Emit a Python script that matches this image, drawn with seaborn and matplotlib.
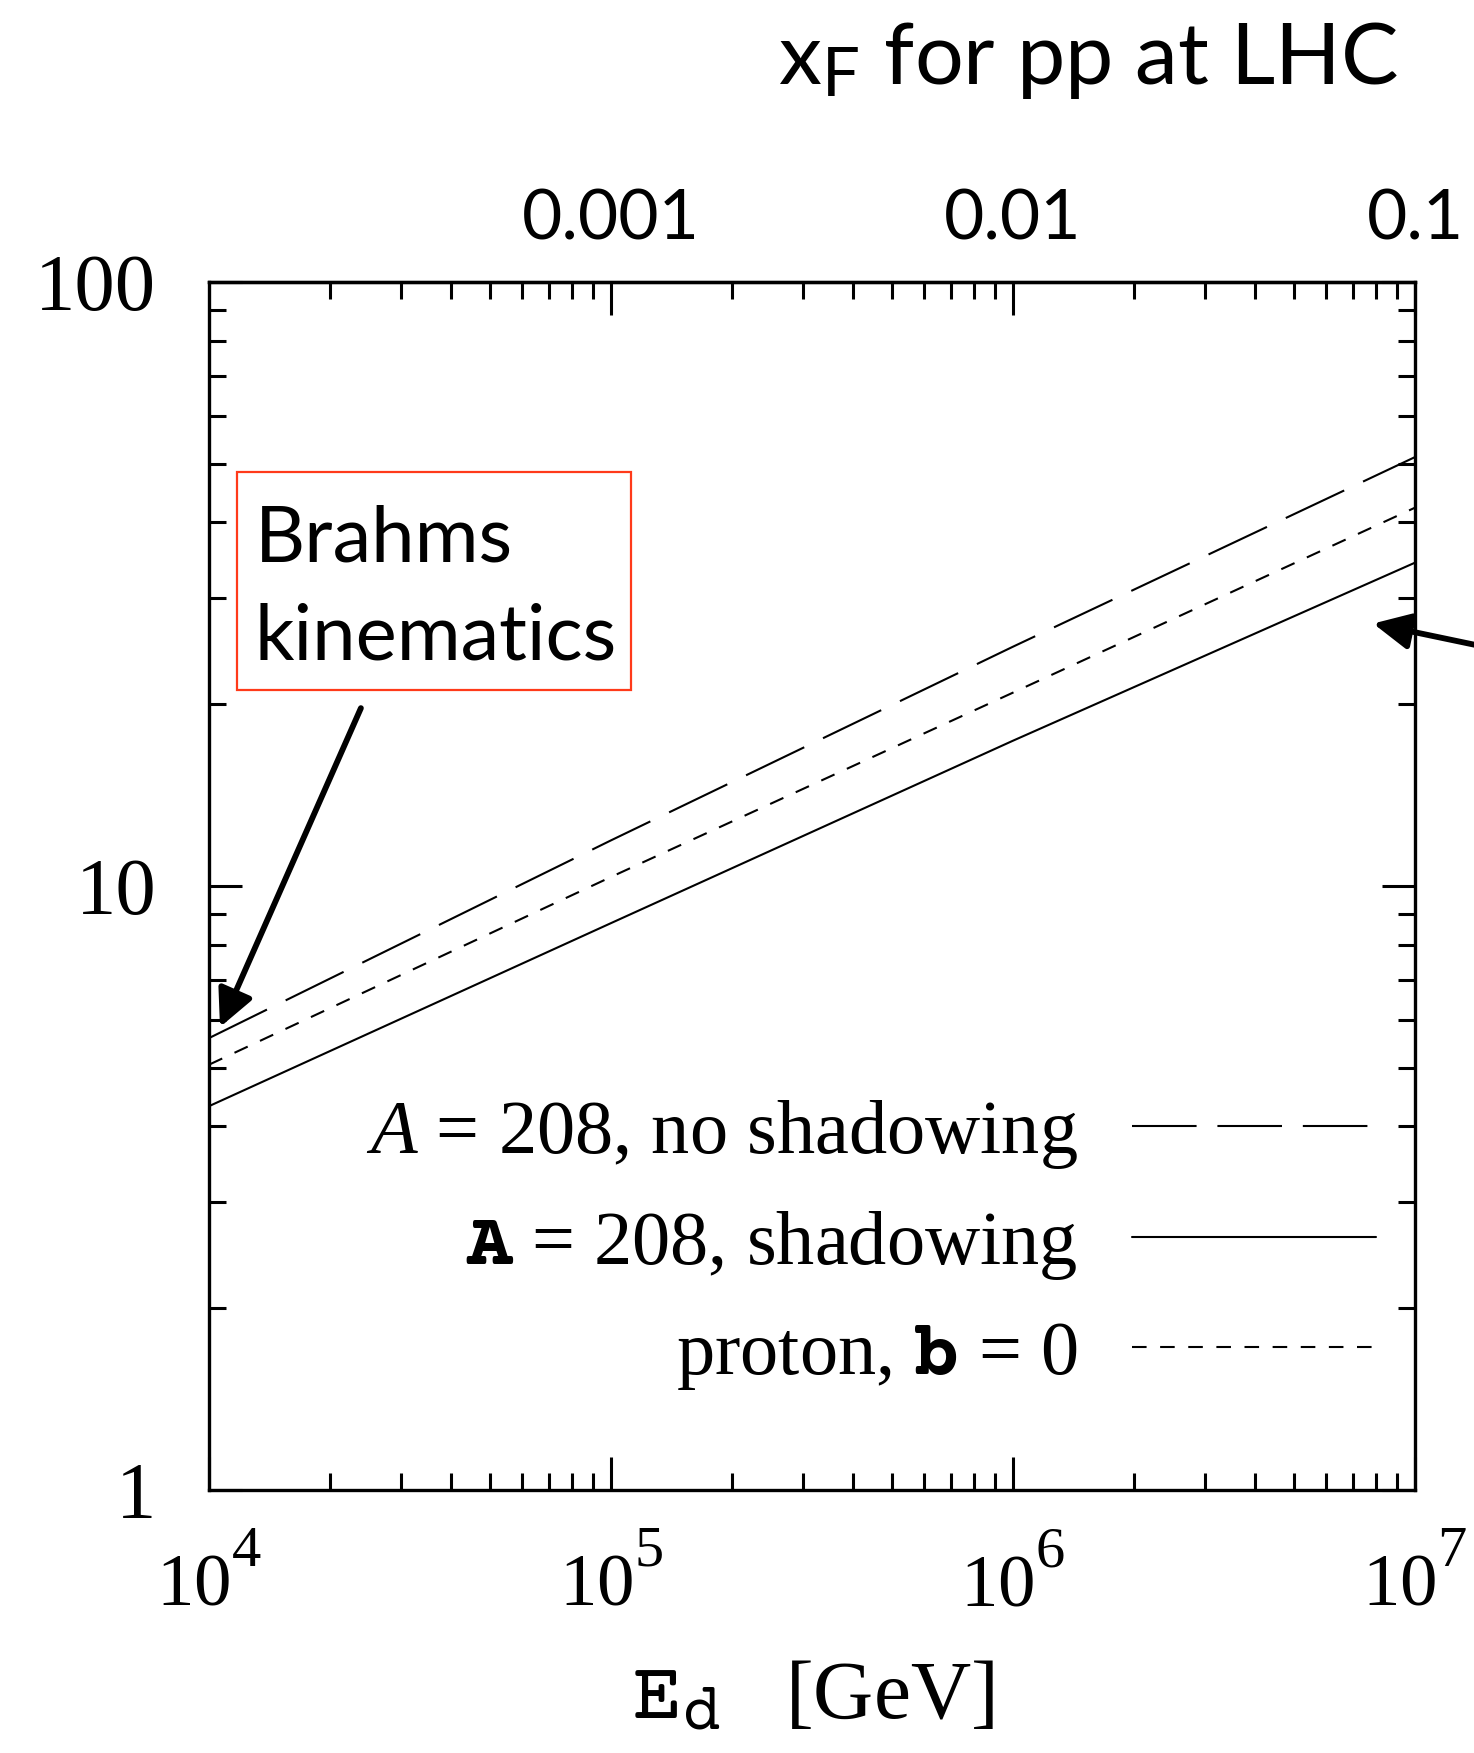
import numpy as np
import pandas as pd
import matplotlib
matplotlib.use("Agg")
import matplotlib.pyplot as plt
import seaborn as sns
from matplotlib import font_manager as fm
from matplotlib.patches import Rectangle
from matplotlib.ticker import LogLocator, NullFormatter

# ---------------- data ----------------
energy_gev = [1e4, 1e5, 1e6, 1e7]
no_shadowing = [5.6, 11.9, 24.9, 51.3]
shadowing = [4.32, 8.68, 17.4, 34.3]
proton_b0 = [5.06, 10.35, 20.9, 42.3]
series_labels = [r"$\mathit{A}$ = 208, no shadowing",
                 r"$\mathbf{A}$ = 208, shadowing",
                 r"proton, $\mathbf{b}$ = 0"]
x_ticks = [1e4, 1e5, 1e6, 1e7]
x_tick_labels = [r"$10^{4}$", r"$10^{5}$", r"$10^{6}$", r"$10^{7}$"]
y_ticks = [1, 10, 100]
y_tick_labels = ["1", "10", "100"]
xf_ticks = [0.001, 0.01, 0.1]
xf_tick_labels = ["0.001", "0.01", "0.1"]
brahms_lines = ["Brahms", "kinematics"]
brahms_tail = (23870, 19.7)
brahms_head = (10650, 5.84)
right_tail = (1.82e7, 24.2)
right_head = (7.87e6, 27.2)

# ---------------- fonts ----------------
names = {f.name for f in fm.fontManager.ttflist}
mono = next((n for n in ["Courier Prime", "Cutive Mono", "Nimbus Mono PS", "FreeMono",
                         "Courier New", "Liberation Mono"] if n in names), "monospace")

# larger / higher superscripts, as in the reference
try:
    import matplotlib._mathtext as _mt

    class _SerifConsts(_mt.FontConstantsBase):
        sup1 = 1.15

    _mt._font_constant_mapping["Liberation Serif"] = _SerifConsts
    _mt.SHRINK_FACTOR = 0.78
except Exception:
    pass

# ---------------- style ----------------
sns.set_theme(style="ticks")
plt.rcParams["font.family"] = ["Liberation Serif", "DejaVu Serif"]
plt.rcParams["text.color"] = "black"
plt.rcParams["axes.labelcolor"] = "black"
plt.rcParams["xtick.color"] = "black"
plt.rcParams["ytick.color"] = "black"
plt.rcParams["mathtext.fontset"] = "custom"
plt.rcParams["mathtext.rm"] = "Liberation Serif"
plt.rcParams["mathtext.it"] = "Liberation Serif:italic"
plt.rcParams["mathtext.tt"] = mono
plt.rcParams["mathtext.bf"] = mono + ":bold"   # typewriter, heavier (legend symbols)
plt.rcParams["mathtext.sf"] = "Lato"

df = pd.DataFrame({
    "E": energy_gev * 3,
    "R": no_shadowing + shadowing + proton_b0,
    "series": [series_labels[0]] * 4 + [series_labels[1]] * 4 + [series_labels[2]] * 4,
})

fig = plt.figure(figsize=(14.74, 17.53), dpi=100)
ax = fig.add_axes([0.14179, 0.15003, 0.81818, 0.68911])

dash_map = {series_labels[0]: (31, 10), series_labels[1]: "", series_labels[2]: (7, 6.5)}
sns.lineplot(data=df, x="E", y="R", style="series", dashes=dash_map,
             color="black", lw=1.5, legend=False, ax=ax, estimator=None, sort=True)

ax.set_xscale("log")
ax.set_yscale("log")
ax.set_xlim(1e4, 1e7)
ax.set_ylim(1, 100)
ax.set_xticks(x_ticks, labels=x_tick_labels)
ax.set_yticks(y_ticks, labels=y_tick_labels)
ax.xaxis.set_minor_locator(LogLocator(base=10, subs=np.arange(2, 10)))
ax.yaxis.set_minor_locator(LogLocator(base=10, subs=np.arange(2, 10)))
ax.xaxis.set_minor_formatter(NullFormatter())
ax.yaxis.set_minor_formatter(NullFormatter())
ax.tick_params(which="both", direction="in", top=False, right=True, width=2.2, color="black")
ax.tick_params(which="major", length=24)
ax.tick_params(which="minor", length=12)
ax.tick_params(axis="y", labelsize=58, pad=38)
ax.tick_params(axis="x", labelsize=54, pad=36)
for s in ax.spines.values():
    s.set_linewidth(2.4)
    s.set_color("black")
    s.set_visible(True)
ax.set_xlabel(r"$\mathtt{E_d}$   [GeV]", fontsize=60, labelpad=28)
ax.set_ylabel("")

sec = ax.secondary_xaxis("top", functions=(lambda e: e / 1e8, lambda x: x * 1e8))
sec.set_xticks(xf_ticks, labels=xf_tick_labels)
sec.xaxis.set_minor_locator(LogLocator(base=10, subs=np.arange(2, 10)))
sec.xaxis.set_minor_formatter(NullFormatter())
sec.tick_params(which="both", direction="in", width=2.2, color="black")
sec.tick_params(which="major", length=24, labelsize=50, pad=22, labelfontfamily="Lato")
sec.tick_params(which="minor", length=12)
sec.spines["top"].set_linewidth(2.4)

leg = ax.legend(handles=ax.lines[:3], labels=series_labels, loc="center right",
                bbox_to_anchor=(0.9677, 0.203), frameon=False, markerfirst=False,
                fontsize=55, handlelength=3.2, handletextpad=0.7,
                labelspacing=0.5, borderpad=0, borderaxespad=0)

fig.text(1398 / 1474, 1 - 84 / 1753, r"$\mathsf{x_F}$ for pp at LHC",
         ha="right", va="baseline", fontsize=62, fontfamily="Lato", color="black")

# red framed note
fig.patches.append(Rectangle((237 / 1474, 1 - 690 / 1753), 394 / 1474, 218 / 1753,
                             transform=fig.transFigure, fill=False,
                             ec="#ff3a1a", lw=1.6))
fig.text(255 / 1474, 1 - 562 / 1753, brahms_lines[0], ha="left", va="baseline",
         fontsize=56, fontfamily="Lato", color="black")
fig.text(255 / 1474, 1 - 660 / 1753, brahms_lines[1], ha="left", va="baseline",
         fontsize=56, fontfamily="Lato", color="black")

arrow_kw = dict(arrowstyle="-|>,head_length=0.45,head_width=0.22", lw=4.2,
                color="black", mutation_scale=50, shrinkA=0, shrinkB=0)
ax.annotate("", xy=brahms_head, xytext=brahms_tail, arrowprops=arrow_kw)
ax.annotate("", xy=right_head, xytext=right_tail, arrowprops=arrow_kw,
            annotation_clip=False)

fig.savefig("out.png", dpi=100)
